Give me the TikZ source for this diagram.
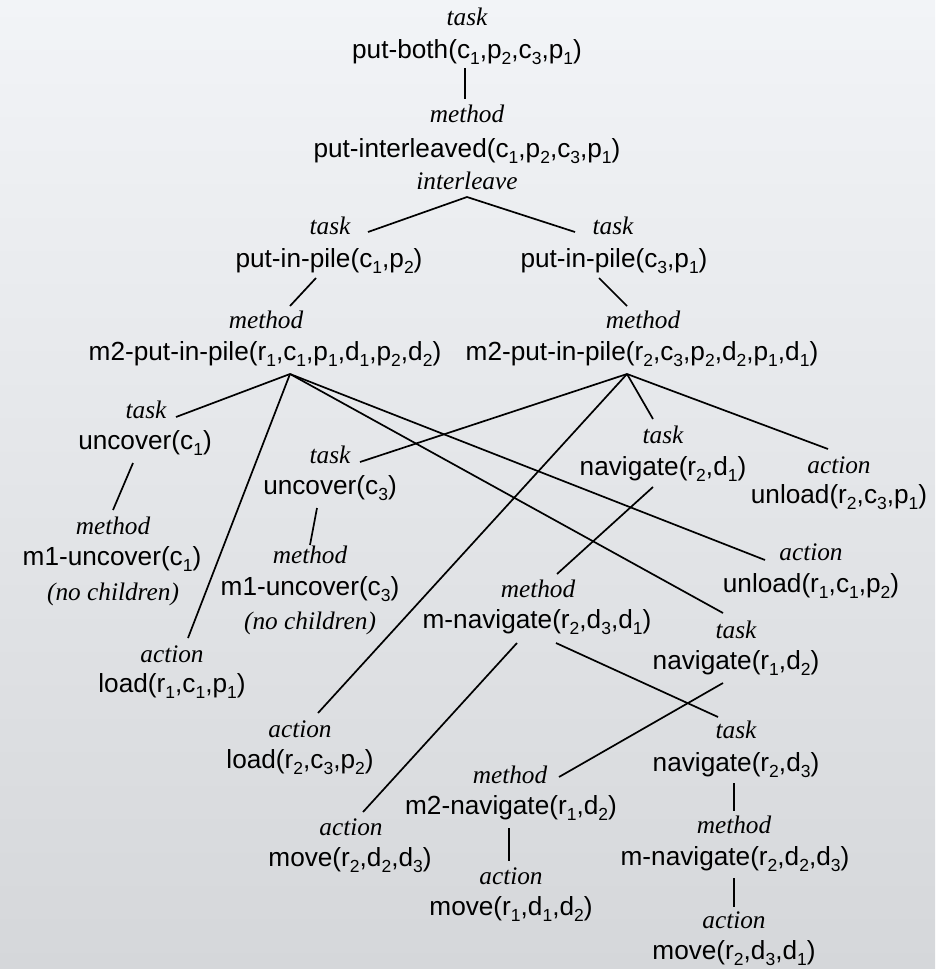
\documentclass[tikz,border=0pt]{standalone}
\usepackage{fontspec}
\setmainfont{Liberation Sans}
\newfontfamily\kindfont{Liberation Serif}
\usetikzlibrary{calc}

% lowered, smaller index digit
\newcommand{\ix}[1]{\raisebox{-6pt}{\fontsize{17.5}{17.5}\selectfont #1}}

\definecolor{bgtop}{RGB}{242,244,247}
\definecolor{bgbottom}{RGB}{213,215,218}

\tikzset{
  term/.style={anchor=base, inner sep=0pt, font=\fontsize{26.2}{30}\selectfont},
  kind/.style={anchor=base, inner sep=0pt, font=\fontsize{25.3}{30}\selectfont\kindfont\itshape},
  link/.style={line width=1.7pt, draw=black},
}

\begin{document}
\begin{tikzpicture}[x=1pt, y=-1pt]
  % canvas with soft vertical gradient
  \shade[top color=bgtop, bottom color=bgbottom] (0,0) rectangle (935,969);
  \useasboundingbox (0,0) rectangle (935,969);

  % root task and its method
  \node[kind] (Al) at (467,25) {task};
  \node[term] (A)  at (467,58) {put-both(c\ix1,p\ix2,c\ix3,p\ix1)};
  \node[kind] (Bl) at (467,122) {method};
  \node[term] (B)  at (467,157) {put-interleaved(c\ix1,p\ix2,c\ix3,p\ix1)};
  \node[kind] (Bi) at (467,189) {interleave};

  % the two interleaved subtasks
  \node[kind] (Cl) at (330,234) {task};
  \node[term] (C)  at (329,267) {put-in-pile(c\ix1,p\ix2)};
  \node[kind] (Dl) at (613,234) {task};
  \node[term] (D)  at (614,267) {put-in-pile(c\ix3,p\ix1)};

  \node[kind] (El) at (266,328) {method};
  \node[term] (E)  at (265,360) {m2-put-in-pile(r\ix1,c\ix1,p\ix1,d\ix1,p\ix2,d\ix2)};
  \node[kind] (Fl) at (643,328) {method};
  \node[term] (F)  at (642,360) {m2-put-in-pile(r\ix2,c\ix3,p\ix2,d\ix2,p\ix1,d\ix1)};

  % uncover subtrees
  \node[kind] (Gl) at (146,418) {task};
  \node[term] (G)  at (145,449) {uncover(c\ix1)};
  \node[kind] (Hl) at (113,534) {method};
  \node[term] (H)  at (112,565) {m1-uncover(c\ix1)};
  \node[kind] (Hn) at (113,600) {(no children)};

  \node[kind] (Il) at (330,463) {task};
  \node[term] (I)  at (330,494) {uncover(c\ix3)};
  \node[kind] (Jl) at (310,563) {method};
  \node[term] (J)  at (310,595) {m1-uncover(c\ix3)};
  \node[kind] (Jn) at (310,629) {(no children)};

  % loads and unloads
  \node[kind] (Kl) at (172,662) {action};
  \node[term] (K)  at (172,692) {load(r\ix1,c\ix1,p\ix1)};
  \node[kind] (Tl) at (300,737) {action};
  \node[term] (T)  at (300,768) {load(r\ix2,c\ix3,p\ix2)};
  \node[kind] (Ml) at (839,473) {action};
  \node[term] (M)  at (839,503) {unload(r\ix2,c\ix3,p\ix1)};
  \node[kind] (Nl) at (811,560) {action};
  \node[term] (N)  at (811,592) {unload(r\ix1,c\ix1,p\ix2)};

  % navigation subtrees
  \node[kind] (Ll) at (663,443) {task};
  \node[term] (L)  at (663,475) {navigate(r\ix2,d\ix1)};
  \node[kind] (Ol) at (538,597) {method};
  \node[term] (O)  at (537,628) {m-navigate(r\ix2,d\ix3,d\ix1)};
  \node[kind] (Pl) at (736,638) {task};
  \node[term] (P)  at (736,669) {navigate(r\ix1,d\ix2)};
  \node[kind] (Ql) at (736,738) {task};
  \node[term] (Q)  at (736,771) {navigate(r\ix2,d\ix3)};
  \node[kind] (Rl) at (510,783) {method};
  \node[term] (R)  at (511,814) {m2-navigate(r\ix1,d\ix2)};
  \node[kind] (Wl) at (351,835) {action};
  \node[term] (W)  at (350,866) {move(r\ix2,d\ix2,d\ix3)};
  \node[kind] (Sl) at (734,833) {method};
  \node[term] (S)  at (735,865) {m-navigate(r\ix2,d\ix2,d\ix3)};
  \node[kind] (Ul) at (511,884) {action};
  \node[term] (U)  at (511,915) {move(r\ix1,d\ix1,d\ix2)};
  \node[kind] (Vl) at (734,928) {action};
  \node[term] (V)  at (734,959) {move(r\ix2,d\ix3,d\ix1)};

  % parent-child links (offsets measured from text baselines)
  \draw[link] ([shift={(-2,10)}]A.base) -- ([shift={(-2,-23)}]Bl.base);
  \draw[link] ([shift={(38,-2)}]Cl.base) -- ([shift={(0,8)}]Bi.base)
              -- ([shift={(-38,-2)}]Dl.base);
  \draw[link] ([shift={(-13,11)}]C.base) -- ([shift={(24,-22)}]El.base);
  \draw[link] ([shift={(-15,11)}]D.base) -- ([shift={(-16,-22)}]Fl.base);

  % children of the first m2-put-in-pile
  \draw[link] ([shift={(25,14)}]E.base) -- ([shift={(30,-1)}]Gl.base);
  \draw[link] ([shift={(25,14)}]E.base) -- ([shift={(16,-24)}]Kl.base);
  \draw[link] ([shift={(25,14)}]E.base) -- ([shift={(-46,0)}]Nl.base);
  \draw[link] ([shift={(25,14)}]E.base) -- ([shift={(-13,-25)}]Pl.base);

  % children of the second m2-put-in-pile
  \draw[link] ([shift={(-15,14)}]F.base) -- ([shift={(30,-1)}]Il.base);
  \draw[link] ([shift={(-15,14)}]F.base) -- ([shift={(18,-24)}]Tl.base);
  \draw[link] ([shift={(-15,14)}]F.base) -- ([shift={(-10,-24)}]Ll.base);
  \draw[link] ([shift={(-15,14)}]F.base) -- ([shift={(-11,-24)}]Ml.base);

  % refinements below
  \draw[link] ([shift={(-12,14)}]G.base) -- ([shift={(0,-24)}]Hl.base);
  \draw[link] ([shift={(-13,14)}]I.base) -- ([shift={(0,-18)}]Jl.base);
  \draw[link] ([shift={(-10,12)}]L.base) -- ([shift={(19,-23)}]Ol.base);
  \draw[link] ([shift={(-20,15)}]O.base) -- ([shift={(12,-23)}]Wl.base);
  \draw[link] ([shift={(19,15)}]O.base)  -- ([shift={(-18,-21)}]Ql.base);
  \draw[link] ([shift={(-13,14)}]P.base) -- ([shift={(49,-6)}]Rl.base);
  \draw[link] ([shift={(-2,12)}]Q.base)  -- ([shift={(0,-22)}]Sl.base);
  \draw[link] ([shift={(-1,13)}]S.base)  -- ([shift={(0,-21)}]Vl.base);
  \draw[link] ([shift={(-2,14)}]R.base)  -- ([shift={(-2,-23)}]Ul.base);
\end{tikzpicture}
\end{document}
